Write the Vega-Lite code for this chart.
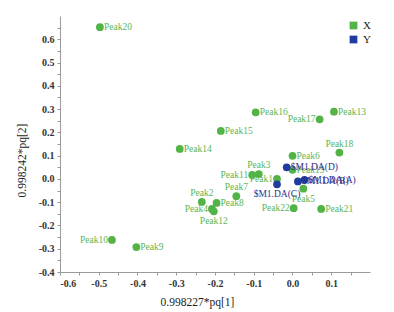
{
  "$schema": "https://vega.github.io/schema/vega-lite/v6.json",
  "autosize": "none",
  "width": 310,
  "height": 256,
  "padding": {"left": 60, "top": 16, "right": 24, "bottom": 40},
  "background": "white",
  "config": {
    "view": {"stroke": null},
    "font": "Liberation Serif"
  },
  "datasets": {
    "pts": [
      {"name": "Peak1", "group": "X", "x": -0.040, "y": 0.000},
      {"name": "Peak2", "group": "X", "x": -0.234, "y": -0.099},
      {"name": "Peak3", "group": "X", "x": -0.087, "y": 0.021},
      {"name": "Peak4", "group": "X", "x": -0.208, "y": -0.129},
      {"name": "Peak5", "group": "X", "x": 0.028, "y": -0.042},
      {"name": "Peak6", "group": "X", "x": 0.000, "y": 0.099},
      {"name": "Peak7", "group": "X", "x": -0.145, "y": -0.074},
      {"name": "Peak8", "group": "X", "x": -0.196, "y": -0.103},
      {"name": "Peak9", "group": "X", "x": -0.403, "y": -0.293},
      {"name": "Peak10", "group": "X", "x": -0.466, "y": -0.262},
      {"name": "Peak11", "group": "X", "x": -0.104, "y": 0.017},
      {"name": "Peak12", "group": "X", "x": -0.203, "y": -0.139},
      {"name": "Peak13", "group": "X", "x": 0.107, "y": 0.289},
      {"name": "Peak14", "group": "X", "x": -0.291, "y": 0.129},
      {"name": "Peak15", "group": "X", "x": -0.185, "y": 0.206},
      {"name": "Peak16", "group": "X", "x": -0.095, "y": 0.286},
      {"name": "Peak17", "group": "X", "x": 0.070, "y": 0.256},
      {"name": "Peak18", "group": "X", "x": 0.121, "y": 0.113},
      {"name": "Peak19", "group": "X", "x": 0.000, "y": 0.039},
      {"name": "Peak20", "group": "X", "x": -0.497, "y": 0.652},
      {"name": "Peak21", "group": "X", "x": 0.074, "y": -0.129},
      {"name": "Peak22", "group": "X", "x": 0.003, "y": -0.126},
      {"name": "$M1.DA(A)", "group": "Y", "x": 0.031, "y": -0.004},
      {"name": "$M1.DA(B)", "group": "Y", "x": 0.014, "y": -0.011},
      {"name": "$M1.DA(C)", "group": "Y", "x": -0.040, "y": -0.023},
      {"name": "$M1.DA(D)", "group": "Y", "x": -0.015, "y": 0.050}
    ]
  },
  "data": {"name": "pts"},
  "encoding": {
    "x": {
      "field": "x", "type": "quantitative",
      "scale": {"domain": [-0.6, 0.2], "nice": false, "zero": false},
      "axis": {
        "title": "0.998227*pq[1]",
        "values": [-0.6, -0.55, -0.5, -0.45, -0.4, -0.35, -0.3, -0.25, -0.2, -0.15, -0.1, -0.05, 0, 0.05, 0.1, 0.15],
        "labelExpr": "abs(datum.value*10 - round(datum.value*10)) < 0.01 ? replace(format(datum.value, '.1f'), '\u2212', '-') : ''",
        "grid": false,
        "domainColor": "#9a9a9a",
        "tickColor": "#9a9a9a",
        "tickSize": 3,
        "labelFont": "Liberation Serif",
        "labelFontSize": 10,
        "labelFontWeight": "bold",
        "labelColor": "#333333",
        "labelPadding": 3,
        "titleFont": "Liberation Serif",
        "titleFontSize": 11.5,
        "titleFontWeight": "normal",
        "titleColor": "#222222",
        "titleX": 137,
        "titleY": 30,
        "titleAlign": "center",
        "titleBaseline": "middle"
      }
    },
    "y": {
      "field": "y", "type": "quantitative",
      "scale": {"domain": [-0.4, 0.7], "nice": false, "zero": false},
      "axis": {
        "title": "0.998242*pq[2]",
        "values": [-0.4, -0.35, -0.3, -0.25, -0.2, -0.15, -0.1, -0.05, 0, 0.05, 0.1, 0.15, 0.2, 0.25, 0.3, 0.35, 0.4, 0.45, 0.5, 0.55, 0.6, 0.65],
        "labelExpr": "abs(datum.value*10 - round(datum.value*10)) < 0.01 ? replace(format(datum.value, '.1f'), '\u2212', '-') : ''",
        "grid": false,
        "domainColor": "#9a9a9a",
        "tickColor": "#9a9a9a",
        "tickSize": 3,
        "labelFont": "Liberation Serif",
        "labelFontSize": 10,
        "labelFontWeight": "bold",
        "labelColor": "#333333",
        "labelPadding": 3,
        "titleFont": "Liberation Serif",
        "titleFontSize": 11.5,
        "titleFontWeight": "normal",
        "titleColor": "#222222",
        "titleX": -38,
        "titleY": 144,
        "titleAlign": "center",
        "titleBaseline": "middle",
        "titleAngle": -90
      }
    }
  },
  "layer": [
    {
      "data": {"values": [{}]},
      "mark": {"type": "rule", "color": "#b0b0b0", "strokeWidth": 1},
      "encoding": {"x": {"datum": 0}, "y": null}
    },
    {
      "data": {"values": [{}]},
      "mark": {"type": "rule", "color": "#b0b0b0", "strokeWidth": 1},
      "encoding": {"y": {"datum": 0}, "x": null}
    },
    {
      "data": {"values": [{}]},
      "mark": {"type": "point", "shape": "triangle-right", "filled": true, "size": 30, "color": "#9a9a9a", "opacity": 1, "clip": false},
      "encoding": {"x": {"datum": 0.2}, "y": {"datum": -0.4}}
    },
    {
      "data": {"values": [{}]},
      "mark": {"type": "point", "shape": "triangle-up", "filled": true, "size": 30, "color": "#9a9a9a", "opacity": 1, "clip": false},
      "encoding": {"x": {"datum": -0.6}, "y": {"datum": 0.7}}
    },
    {
      "mark": {"type": "circle", "size": 60, "opacity": 1},
      "encoding": {
        "color": {
          "field": "group", "type": "nominal",
          "scale": {"domain": ["X", "Y"], "range": ["#52b346", "#1f3c9e"]},
          "legend": {
            "title": null,
            "orient": "none",
            "legendX": 288,
            "legendY": 4,
            "symbolType": "square",
            "symbolSize": 60,
            "symbolStrokeWidth": 0,
            "labelFont": "Liberation Serif",
            "labelFontSize": 11,
            "labelColor": "#222222",
            "rowPadding": 2,
            "labelOffset": 4
          }
        },
        "order": {"field": "group", "type": "nominal"}
      }
    },
    {
      "transform": [{"filter": {"field": "name", "oneOf": ["Peak20", "Peak14", "Peak15", "Peak16", "Peak13", "Peak6", "Peak19", "Peak8", "Peak9", "Peak21", "$M1.DA(D)", "$M1.DA(A)", "$M1.DA(B)"]}}],
      "mark": {"type": "text", "align": "left", "baseline": "middle", "dx": 4, "font": "Liberation Serif", "fontSize": 9.5},
      "encoding": {
        "text": {"field": "name"},
        "color": {"condition": {"test": "datum.group == 'X'", "value": "#5cb553"}, "value": "#2c2f8e"}
      }
    },
    {
      "transform": [{"filter": {"field": "name", "oneOf": ["Peak17", "Peak11", "Peak1", "Peak4", "Peak10", "Peak22"]}}],
      "mark": {"type": "text", "align": "right", "baseline": "middle", "dx": -4, "font": "Liberation Serif", "fontSize": 9.5},
      "encoding": {
        "text": {"field": "name"},
        "color": {"value": "#5cb553"}
      }
    },
    {
      "transform": [{"filter": {"field": "name", "oneOf": ["Peak18", "Peak3", "Peak7", "Peak2"]}}],
      "mark": {"type": "text", "align": "center", "baseline": "bottom", "dy": -4, "font": "Liberation Serif", "fontSize": 9.5},
      "encoding": {
        "text": {"field": "name"},
        "color": {"value": "#5cb553"}
      }
    },
    {
      "transform": [{"filter": {"field": "name", "oneOf": ["Peak12", "Peak5", "$M1.DA(C)"]}}],
      "mark": {"type": "text", "align": "center", "baseline": "top", "dy": 5, "font": "Liberation Serif", "fontSize": 9.5},
      "encoding": {
        "text": {"field": "name"},
        "color": {"condition": {"test": "datum.group == 'X'", "value": "#5cb553"}, "value": "#2c2f8e"}
      }
    }
  ]
}
